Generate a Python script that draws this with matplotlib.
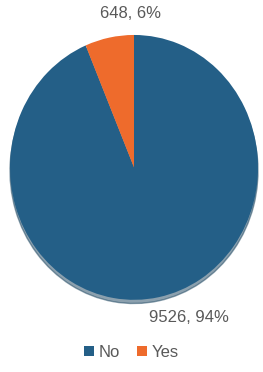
import matplotlib
matplotlib.use('Agg')
import matplotlib.pyplot as plt
from matplotlib.patches import Patch

# data
categories = ['No', 'Yes']
counts = [9526, 648]
colors = ['#245f87', '#ee6b2c']

total = sum(counts)
labels = [f'{c}, {round(c / total * 100)}%' for c in counts]

plt.rcParams['font.family'] = ['Liberation Sans', 'DejaVu Sans']

fig = plt.figure(figsize=(2.63, 3.72), dpi=100)
ax = fig.add_axes([0.038, 0.194, 0.943, 0.712])

wedges, texts = ax.pie(counts, colors=colors, labels=labels,
                       startangle=90, counterclock=False,
                       labeldistance=1.2,
                       shadow={'ox': 0.0, 'oy': -0.02, 'shade': 0.3, 'alpha': 0.5},
                       textprops={'color': '#595959', 'fontsize': 12})
ax.set_aspect('auto')
ax.set_xlim(-1, 1)
ax.set_ylim(-1, 1)
for t in texts:
    t.set_ha('center')
    t.set_va('center')
    t.set_clip_on(False)

# nudge the labels to sit like the original outside-end labels
texts[0].set_position((0.44, -1.13))
texts[1].set_position((-0.03, 1.16))

handles = [Patch(facecolor=c, edgecolor='none') for c in colors]
fig.legend(handles, categories, loc='center', bbox_to_anchor=(0.5, 0.053),
           ncol=2, frameon=False, handlelength=0.6, handleheight=0.6,
           handletextpad=0.3, columnspacing=1.0,
           prop={'size': 12}, labelcolor='#595959')

fig.savefig('out.png', dpi=100)
